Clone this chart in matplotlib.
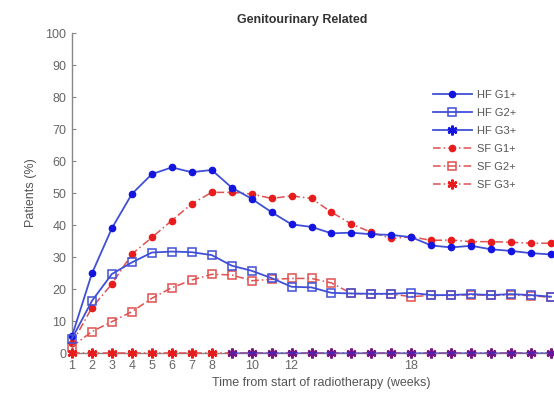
import matplotlib
matplotlib.use("Agg")
import matplotlib.pyplot as plt
import numpy as np

plt.rcParams['font.family'] = ['Liberation Sans', 'DejaVu Sans']

weeks = list(range(1, 26))
hf_g1 = [5.3, 24.9, 39.0, 49.7, 55.9, 58.0, 56.5, 57.2, 51.7, 48.2, 44.0, 40.2, 39.4,
         37.4, 37.6, 37.1, 36.9, 36.2, 33.6, 33.0, 33.5, 32.4, 31.9, 31.2, 30.8]
hf_g2 = [4.5, 16.3, 24.7, 28.3, 31.4, 31.7, 31.5, 30.6, 27.3, 25.7, 23.4, 20.7, 20.5,
         18.8, 18.6, 18.5, 18.5, 18.8, 18.1, 18.1, 18.4, 18.1, 18.4, 18.1, 17.6]
hf_g3_weeks = list(range(9, 26))
hf_g3 = [0] * len(hf_g3_weeks)
sf_g1 = [3.0, 14.2, 21.6, 30.9, 36.1, 41.4, 46.6, 50.2, 50.2, 49.7, 48.3, 49.1, 48.3,
         44.0, 40.3, 37.7, 35.8, 36.3, 35.2, 35.3, 34.8, 34.8, 34.6, 34.3, 34.3]
sf_g2 = [2.0, 6.7, 9.8, 12.9, 17.1, 20.4, 22.8, 24.6, 24.4, 22.6, 23.0, 23.3, 23.3,
         21.9, 18.6, 18.4, 18.4, 17.6, 18.0, 18.0, 18.2, 18.0, 18.2, 17.9, 17.4]
sf_g3 = [0] * len(weeks)

xticks = [1, 2, 3, 4, 5, 6, 7, 8, 10, 12, 18]
yticks = list(range(0, 101, 10))
labels = ['HF G1+', 'HF G2+', 'HF G3+', 'SF G1+', 'SF G2+', 'SF G3+']

blue_line = '#4050d6'
blue_mk = '#1414e0'
red_line = '#e05050'
red_mk = '#e81c1c'
grey = '#666666'
dashdot = (0, (5, 2, 1, 2))
star = (6, 2, 0)

fig = plt.figure(figsize=(5.54, 3.99), dpi=100)
ax = fig.add_axes([72/554, 1 - 353/399, 1 - 72/554, 320/399])

h1, = ax.plot(weeks, hf_g1, '-', color=blue_line, lw=1.3, marker='o', ms=4.5,
              mfc=blue_mk, mec=blue_mk, clip_on=False, zorder=4)
h2, = ax.plot(weeks, hf_g2, '-', color=blue_line, lw=1.3, marker='s', ms=5.5,
              mfc='none', mec=blue_line, mew=1.1, clip_on=False, zorder=4)
h4, = ax.plot(weeks, sf_g1, linestyle=dashdot, color=red_line, lw=1.1, marker='o', ms=4.5,
              mfc=red_mk, mec=red_mk, clip_on=False, zorder=3)
h5, = ax.plot(weeks, sf_g2, linestyle=dashdot, color=red_line, lw=1.1, marker='s', ms=5.5,
              mfc='none', mec=red_line, mew=1.1, clip_on=False, zorder=3)
h6, = ax.plot(weeks, sf_g3, linestyle=dashdot, color=red_line, lw=1.1, marker=star, ms=7,
              mfc=red_mk, mec=red_mk, mew=1.8, clip_on=False, zorder=5)
h3, = ax.plot(hf_g3_weeks, hf_g3, '-', color=blue_line, lw=1.3, marker=star, ms=7,
              mfc=blue_mk, mec=blue_mk, mew=1.8, alpha=0.55, clip_on=False, zorder=6)

ax.set_xlim(1, 25.15)
ax.set_ylim(0, 100)
ax.set_xticks(xticks)
ax.set_yticks(yticks)
ax.tick_params(axis='both', direction='in', length=3, colors='#888888', labelsize=9,
               labelcolor=grey)
ax.tick_params(axis='x', pad=5)
ax.tick_params(axis='y', pad=4)
for s in ['top', 'right']:
    ax.spines[s].set_visible(False)
for s in ['left', 'bottom']:
    ax.spines[s].set_color('#888888')
    ax.spines[s].set_linewidth(1.0)

fig.text(302/554, 1 - 20/399, 'Genitourinary Related', ha='center', va='center',
         fontsize=9, fontweight='bold', color='#333333')
fig.text(321/554, 1 - 383/399, 'Time from start of radiotherapy (weeks)', ha='center',
         va='center', fontsize=9, color='#555555')
fig.text(31/554, 1 - 193/399, 'Patients (%)', ha='center', va='center', rotation=90,
         fontsize=9, color='#555555')

leg = fig.legend([h1, h2, h3, h4, h5, h6], labels, loc='upper left',
                 bbox_to_anchor=(433/554, 1 - 90/399), frameon=False, fontsize=8,
                 handlelength=3.5, handletextpad=0.5, labelspacing=0.72, borderpad=0,
                 borderaxespad=0)
for t in leg.get_texts():
    t.set_color('#555555')
for hnd in leg.legend_handles:
    hnd.set_alpha(1)

fig.savefig('out.png', dpi=100)
